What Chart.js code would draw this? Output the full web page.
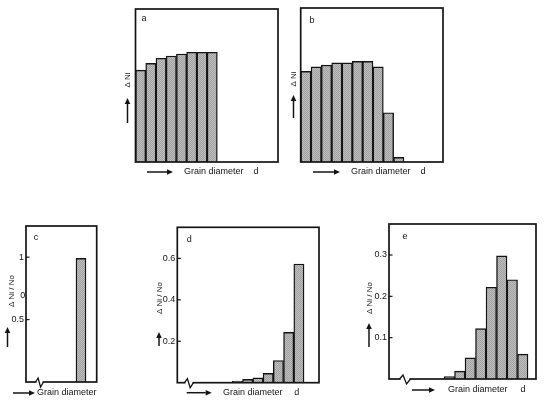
<!DOCTYPE html>
<html><head><meta charset="utf-8">
<script src="https://cdn.jsdelivr.net/npm/chart.js@4"></script>
<style>
html,body{margin:0;padding:0;background:#fff;}
body{width:550px;height:406px;position:relative;overflow:hidden;}
canvas{position:absolute;}
</style></head><body>
<script>
// ---- data ----
const xLabel = "Grain diameter";
const xSymbol = "d";
const yLabelTop = "Δ Ni";
const yLabelBottom = "Δ Ni / No";
const valuesA = [0.60, 0.645, 0.678, 0.693, 0.706, 0.717, 0.717, 0.717];
const valuesB = [0.588, 0.618, 0.629, 0.644, 0.644, 0.653, 0.653, 0.618, 0.32, 0.03];
const valuesC = [0.99];
const valuesD = [0.008, 0.016, 0.023, 0.045, 0.107, 0.243, 0.573];
const valuesE = [0.006, 0.019, 0.051, 0.122, 0.222, 0.298, 0.24, 0.06];
const ticksC = [0.5, 1];
const ticksD = [0.2, 0.4, 0.6];
const ticksE = [0.1, 0.2, 0.3];

const FONT = "'Liberation Sans', Arial, sans-serif";
const INK = '#141414';
const YW = 20;

// stipple fill pattern
function makeFill() {
  const pc = document.createElement('canvas');
  pc.width = 2; pc.height = 2;
  const g = pc.getContext('2d');
  g.fillStyle = '#bdbdbd'; g.fillRect(0, 0, 2, 2);
  g.fillStyle = '#a2a2a2'; g.fillRect(0, 0, 1, 1); g.fillRect(1, 1, 1, 1);
  return g.createPattern(pc, 'repeat');
}
const FILL = makeFill();

// layout (absolute page coordinates)
const panels = [
  {vals: valuesA, letter: 'a', ymax: 1, yTicks: null, xmin: -0.5, xmax: 13.43,
   cv: [115, 0, 170, 185], box: [135.5, 9, 278, 162], ytitle: yLabelTop, yt: [127.5, 80],
   arr: [127.5, 123, 98], xa: [147, 173, 172], xt: 184, dx: 256, lt: [144, 19], brk: null},
  {vals: valuesB, letter: 'b', ymax: 1, yTicks: null, xmin: -0.5, xmax: 13.28,
   cv: [280, 0, 170, 185], box: [300.7, 8, 443, 162], ytitle: yLabelTop, yt: [293.5, 79],
   arr: [293.5, 118, 95], xa: [313, 340, 172], xt: 351, dx: 423, lt: [312, 21], brk: null},
  {vals: valuesC, letter: 'c', ymax: 1.25, yTicks: ticksC, xmin: -5.5, xmax: 1.57,
   cv: [0, 215, 105, 191], box: [26, 226, 96.7, 382], ytitle: yLabelBottom, yt: [11.7, 291],
   arr: [7.5, 347, 327], xa: [13, 35, 393], xt: 37, dx: null, lt: [36, 238], brk: [36, 43], stray: [22.7, 296]},
  {vals: valuesD, letter: 'd', ymax: 0.75, yTicks: ticksD, xmin: -5.87, xmax: 7.96,
   cv: [145, 215, 185, 191], box: [177.3, 227.3, 319, 382.7], ytitle: yLabelBottom, yt: [159.3, 298],
   arr: [159, 346, 332], xa: [186.7, 211.7, 392.7], xt: 223, dx: 296.7, lt: [189.3, 239.3], brk: [185, 193]},
  {vals: valuesE, letter: 'e', ymax: 0.375, yTicks: ticksE, xmin: -5.74, xmax: 8.26,
   cv: [360, 212, 190, 194], box: [389, 224, 536, 379], ytitle: yLabelBottom, yt: [370, 298],
   arr: [369, 347, 323], xa: [412, 435, 390], xt: 448, dx: 523, lt: [405, 236.7], brk: [400, 410]}
];

function arrow(ctx, x1, y1, x2, y2) {
  const ang = Math.atan2(y2 - y1, x2 - x1), L = 6, W = 2.8;
  ctx.beginPath(); ctx.moveTo(x1, y1);
  ctx.lineTo(x2 - L * Math.cos(ang), y2 - L * Math.sin(ang)); ctx.stroke();
  ctx.beginPath();
  ctx.moveTo(x2, y2);
  ctx.lineTo(x2 - L * Math.cos(ang) - W * Math.sin(ang), y2 - L * Math.sin(ang) + W * Math.cos(ang));
  ctx.lineTo(x2 - L * Math.cos(ang) + W * Math.sin(ang), y2 - L * Math.sin(ang) - W * Math.cos(ang));
  ctx.closePath(); ctx.fill();
}

const decor = {
  id: 'decor',
  afterDraw(chart, args, o) {
    const p = o.p, ctx = chart.ctx, a = chart.chartArea;
    const ox = p.cv[0], oy = p.cv[1];
    ctx.save();
    ctx.strokeStyle = INK; ctx.fillStyle = INK; ctx.lineWidth = 1.7;
    ctx.strokeRect(a.left, a.top, a.right - a.left, a.bottom - a.top);
    if (p.yTicks) {
      const ys = chart.scales.y;
      ctx.lineWidth = 1.2;
      p.yTicks.forEach(v => {
        const y = ys.getPixelForValue(v);
        ctx.beginPath(); ctx.moveTo(a.left, y); ctx.lineTo(a.left + 3.5, y); ctx.stroke();
      });
    }
    if (p.brk) {
      const x0 = p.brk[0] - ox, x1 = p.brk[1] - ox, by = a.bottom, w = x1 - x0;
      ctx.strokeStyle = '#fff'; ctx.lineWidth = 3;
      ctx.beginPath(); ctx.moveTo(x0 + 0.5, by); ctx.lineTo(x1 - 0.5, by); ctx.stroke();
      ctx.strokeStyle = INK; ctx.lineWidth = 1.3;
      ctx.beginPath(); ctx.moveTo(x0 - 0.5, by);
      ctx.lineTo(x0 + w * 0.3, by - 4);
      ctx.lineTo(x0 + w * 0.65, by + 5);
      ctx.lineTo(x1 + 0.5, by); ctx.stroke();
    }
    ctx.lineWidth = 1.5;
    arrow(ctx, p.arr[0] - ox, p.arr[1] - oy, p.arr[0] - ox, p.arr[2] - oy);
    arrow(ctx, p.xa[0] - ox, p.xa[2] - oy, p.xa[1] - ox, p.xa[2] - oy);
    ctx.textBaseline = 'middle';
    ctx.font = '9px ' + FONT;
    ctx.textAlign = 'left';
    ctx.fillText(xLabel, p.xt - ox, p.xa[2] - oy);
    if (p.dx) { ctx.textAlign = 'center'; ctx.fillText(xSymbol, p.dx - ox, p.xa[2] - oy); }
    ctx.textAlign = 'center';
    ctx.fillText(p.letter, p.lt[0] - ox, p.lt[1] - oy);
    if (p.stray) { ctx.fillText('0', p.stray[0] - ox, p.stray[1] - oy); }
    ctx.save();
    ctx.translate(p.yt[0] - ox, p.yt[1] - oy);
    ctx.rotate(-Math.PI / 2);
    ctx.font = '8px ' + FONT;
    ctx.fillText(p.ytitle, 0, 0);
    ctx.restore();
    ctx.restore();
  }
};

panels.forEach(p => {
  const c = document.createElement('canvas');
  c.width = p.cv[2]; c.height = p.cv[3];
  c.style.left = p.cv[0] + 'px'; c.style.top = p.cv[1] + 'px';
  c.style.width = p.cv[2] + 'px'; c.style.height = p.cv[3] + 'px';
  document.body.appendChild(c);
  const hasY = !!p.yTicks;
  const pad = {
    left: p.box[0] - p.cv[0] - (hasY ? YW : 0),
    top: p.box[1] - p.cv[1],
    right: p.cv[0] + p.cv[2] - p.box[2],
    bottom: p.cv[1] + p.cv[3] - p.box[3]
  };
  const data = p.vals.map((v, i) => ({x: i, y: v}));
  new Chart(c, {
    type: 'bar',
    data: {datasets: [{data: data, backgroundColor: FILL, borderColor: INK, borderWidth: 1.4,
      barPercentage: 1, categoryPercentage: 1}]},
    options: {
      responsive: false, animation: false, devicePixelRatio: 1,
      layout: {padding: pad},
      plugins: {legend: {display: false}, tooltip: {enabled: false}, decor: {p: p}},
      scales: {
        x: {type: 'linear', min: p.xmin, max: p.xmax, offset: false, display: false,
          ticks: {autoSkip: false},
          afterBuildTicks: s => {
            const t = [];
            for (let i = Math.ceil(p.xmin); i <= Math.floor(p.xmax); i++) t.push({value: i});
            s.ticks = t;
          }},
        y: {type: 'linear', min: 0, max: p.ymax, display: hasY,
          afterBuildTicks: s => { if (hasY) s.ticks = p.yTicks.map(v => ({value: v})); },
          afterFit: s => { if (hasY) s.width = YW; },
          grid: {display: false, drawTicks: false}, border: {display: false},
          ticks: {font: {family: FONT, size: 9}, color: INK, padding: 2, callback: v => String(v)}}
      }
    },
    plugins: [decor]
  });
});
</script>
</body></html>
